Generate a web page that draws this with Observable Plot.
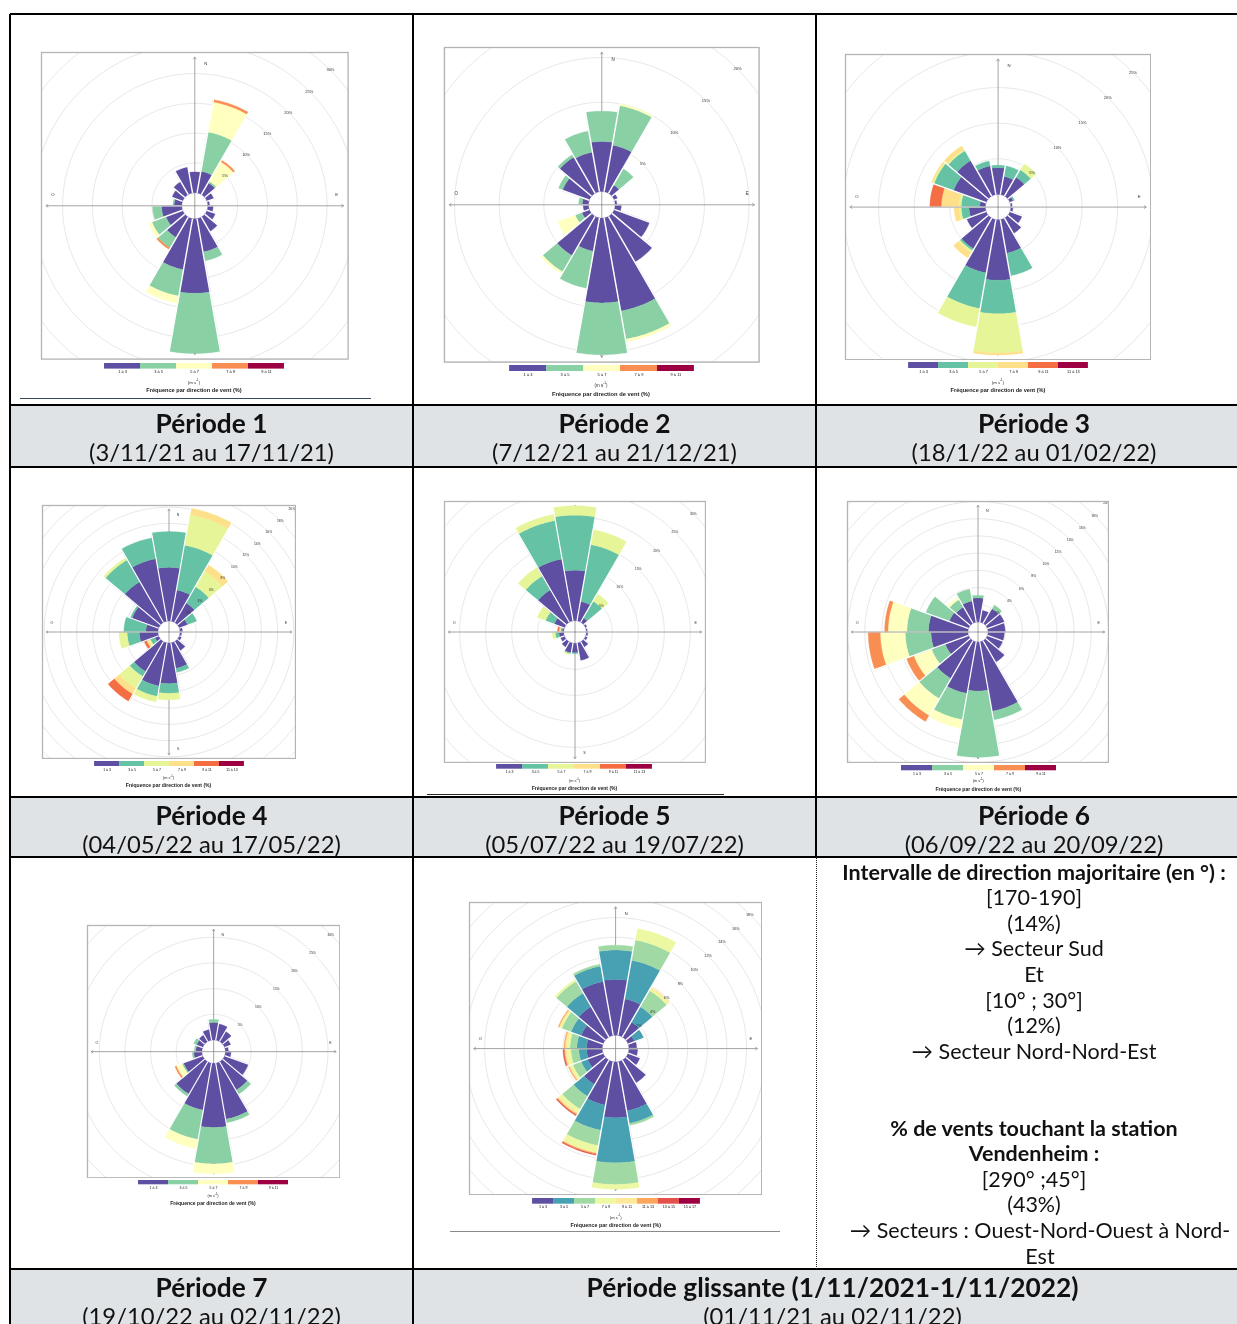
<!DOCTYPE html>
<html lang="fr"><head><meta charset="utf-8"><title>Roses des vents</title>
<script src="https://cdn.jsdelivr.net/npm/d3@7"></script>
<script src="https://cdn.jsdelivr.net/npm/@observablehq/plot@0.6"></script>
<style>
html,body{margin:0;padding:0;background:#fff;}
#page{position:relative;width:1237px;height:1324px;overflow:hidden;font-family:Lato,"Open Sans",sans-serif;color:#111;will-change:transform;}
.a{position:absolute;}
.hdr{position:absolute;background:#e0e3e6;text-align:center;line-height:29px;padding-top:3.5px;box-sizing:border-box;white-space:nowrap;}
.hdr .t{font-weight:700;font-size:26.3px;}
.hdr .d{font-size:23.8px;}
.cap{position:absolute;text-align:center;font-family:"Liberation Sans",Arial,sans-serif;white-space:nowrap;transform:translate(-50%,-50%);color:#222;line-height:1;}
.note{position:absolute;text-align:center;font-size:21.5px;line-height:25.6px;white-space:nowrap;}
svg{will-change:transform;}
</style></head><body><div id="page"></div>
<script>
// ---------- DATA ----------
// wind directions (centre of 20° sectors, degrees from North, clockwise)
const DIRS = d3.range(0, 360, 20);
// wind speed classes (m s-1)
const SPEED_CLASSES = ["1 à 3","3 à 5","5 à 7","7 à 9","9 à 11","11 à 13","13 à 15","15 à 17"];
// frequency (%) per direction (0,20,...,340) and per speed class
const P1 = [[3.5],[3.7,6.7,5.1,0.4],[2.3,0.3,3.8,0.3],[1.2],[0.3],[0.9],[1.5],[2.8],[5.7,1.5],[12.5,10.1],[8.7,4.5,1.2],[4.0,2.0,0,0.3],[3.0,2.5,0.6],[3.4,1.5],[1.3,0.2],[1.9],[2.5],[4.4]];
const P2 = [[5.6,3.4],[5.3,4.5,0.2],[1.1,2.1],[0.4],[0.2],[0.7],[4.2],[5.9],[10.6,3.2,0.3],[9.5,5.8],[3.8,4.2],[5.1,2.1,0.25],[0.9,0.8,2.1],[0.6],[0.7,0.4],[3.2,0.5],[4.7,0.3],[4.5,2.4]];
const P3 = [[3.75,0.35],[2.6,1.5],[3.1,1.2,1.0],[0.5,0.2],[0.2],[0.3],[1.8],[2.5],[4.8,3.2],[8.5,4.7,5.5,0.3],[7.6,5.1,2.6],[5.0,0.3,0.3,0.9],[2.9],[2.3,1.1,0.3,0.7],[0.8,2.6,0.3,2.5,1.6],[4.9,2.9,0.2,0.2],[5.8,1.6,0.2,0.6],[4.1,0.7]];
const P4 = [[6.6,4.4],[3.9,5.6,3.8,0.8],[2.8,2.3,2.2,0.9],[1.1,1.2],[0.3],[0.2],[0.3],[1.3],[3.2,0.5],[5.0,1.2,0.8],[5.4,1.3,0.7],[4.3,0.7,1.7,0.8,1.0],[0.5,0.6,0.3,0.2,0.3],[2.3,1.5,1.0],[1.5,2.7],[3.5,0.2],[5.8,3.1,0.3],[7.8,2.6]];
const P5 = [[9.7,10.6,1.8],[3.8,11.1,2.9],[1.0,3.7,1.6],[0.3],[0.2],[0.3],[0.4],[1.2],[3.4],[1.8,0.2],[1.9,0.2,0.2],[1.2],[0.8],[0.9,0.7,0.6],[0.3,0.3,0.1,0.2,0.3],[2.1,1.8,1.7],[7.2,3.1,1.9],[12.1,7.5,1.2]];
const P6 = [[2.8,0.3],[1.4],[2.0,0.5],[2.1],[2.0],[1.9],[1.9],[2.9],[8.2,1.0],[5.7,7.7],[6.1,3.1,1.0],[5.1,2.7,2.3,0.8],[2.9,1.7,2.2,0.9],[4.3,3.0,2.9,1.4],[4.6,2.5,2.2,0.4],[2.4,2.9],[2.2,1.0,0.3],[2.5,1.4]];
const P7 = [[3.4,0.6],[3.2],[2.3],[1.3],[0.6],[1.1],[4.9],[6.4,0.9],[11.1,0.7],[12.5,7.1,1.9],[9.3,5.8,1.8],[7.3,0.5],[4.0,0.3,1.2,0.3],[1.6,0.3],[1.2,0.3],[1.3,0.6],[1.5],[2.1]];
const P8 = [[5.7,3.0,0.5],[3.8,4.0,2.1,1.2],[1.8,1.8,1.9,0.2,0.2],[0.7,1.0],[0.8],[0.9],[1.3],[2.7],[5.1,1.3,0.2],[5.7,4.6,2.2,0.5],[4.5,2.6,1.6,0.7,0.1,0.1,0.1],[2.9,1.4,1.5,0.4,0.2,0.1,0.1],[1.7,0.7,0.9,0.3,0.1,0.1],[1.6,0.8,0.8,0.4,0.2,0.1,0.1],[1.6,1.0,0.7,0.3,0.2,0.1],[2.4,1.1,1.0,0.2,0.1,0.1],[3.6,1.6,1.4,0.2],[5.6,1.6,0.2]];
const ROSES = [P1, P2, P3, P4, P5, P6, P7, P8];
const N_CLASSES = [5, 5, 6, 6, 6, 5, 5, 8];
const RING_STEP = [5, 5, 5, 2, 5, 2, 5, 2];
const RING_MAX = [30, 25, 25, 20, 30, 20, 30, 18];
const PERIOD_TITLES = ["Période 1","Période 2","Période 3","Période 4","Période 5","Période 6","Période 7","Période glissante (1/11/2021-1/11/2022)"];
const PERIOD_DATES = ["(3/11/21 au 17/11/21)","(7/12/21 au 21/12/21)","(18/1/22 au 01/02/22)","(04/05/22 au 17/05/22)","(05/07/22 au 19/07/22)","(06/09/22 au 20/09/22)","(19/10/22 au 02/11/22)","(01/11/21 au 02/11/22)"];
const NOTE_LINES = ["Intervalle de direction majoritaire (en °) :","[170-190]","(14%)","→ Secteur Sud","Et","[10° ; 30°]","(12%)","→ Secteur Nord-Nord-Est","","","% de vents touchant la station","Vendenheim :","[290° ;45°]","(43%)","→ Secteurs : Ouest-Nord-Ouest à Nord-","Est"];
const NOTE_BOLD = [0, 10, 11];
const CARDINALS = [["N", 0], ["E", 90], ["S", 180], ["O", 270]];

// ---------- LAYOUT / STYLE ----------
const SPECTRAL = ["#5e4fa2","#3288bd","#66c2a5","#abdda4","#e6f598","#ffffbf","#fee08b","#fdae61","#f46d43","#d53e4f","#9e0142"];
const ramp = d3.piecewise(d3.interpolateRgb, SPECTRAL);
const LAYOUT = [
  {x: 40.7, y: 52.3, size: 306.6, s: 5.96, r0: 13, leg: {x: 102.3, y: 362.7, w: 183.7, h: 5.6}, cx: 194, unitY: 382, titleY: 391},
  {x: 443.7, y: 47.3, size: 314.6, s: 8.93, r0: 13.3, leg: {x: 506.7, y: 365, w: 188.3, h: 6}, cx: 601, unitY: 385, titleY: 395},
  {x: 845.3, y: 54, size: 305.2, s: 7.12, r0: 12.7, leg: {x: 906.3, y: 362.3, w: 183.4, h: 6}, cx: 998, unitY: 382, titleY: 391},
  {x: 42.3, y: 505, size: 253, s: 8.13, r0: 11, leg: {x: 92.7, y: 761, w: 151.6, h: 5}, cx: 168.5, unitY: 778, titleY: 786},
  {x: 443.7, y: 500.7, size: 261, s: 5.2, r0: 11.3, leg: {x: 496, y: 764.3, w: 156.7, h: 4.7}, cx: 574.5, unitY: 781, titleY: 789},
  {x: 847.3, y: 501, size: 261, s: 8.6, r0: 10, leg: {x: 899.7, y: 765, w: 157, h: 5.3}, cx: 978.3, unitY: 781, titleY: 790},
  {x: 86.7, y: 925, size: 252.3, s: 5.13, r0: 11.7, leg: {x: 137.3, y: 1180, w: 151.4, h: 4.3}, cx: 213, unitY: 1196, titleY: 1203.5},
  {x: 469, y: 902.3, size: 292.2, s: 9.8, r0: 13.3, leg: {x: 527.7, y: 1198.3, w: 175.6, h: 5.7}, cx: 615.8, unitY: 1216.5, titleY: 1226}
];
const COLS = [10, 413, 816, 1252];
const HEADER_ROWS = [405, 797, 1269];
const HEADER_H = [62, 60, 70];

const page = document.getElementById("page");
function add(cls, css, html) {
  const d = document.createElement("div");
  if (cls) d.className = cls;
  Object.assign(d.style, css);
  if (html != null) d.innerHTML = html;
  page.appendChild(d);
  return d;
}

// header cells
const headerCells = [
  [0, 0, 1], [0, 1, 2], [0, 2, 3],
  [1, 0, 1], [1, 1, 2], [1, 2, 3],
  [2, 0, 1], [2, 1, 3]
];
headerCells.forEach(([r, c0, c1], i) => {
  add("hdr", {left: COLS[c0] + "px", top: HEADER_ROWS[r] + "px", width: (COLS[c1] - COLS[c0]) + "px", height: HEADER_H[r] + "px"},
    `<div class="t">${PERIOD_TITLES[i]}</div><div class="d">${PERIOD_DATES[i]}</div>`);
});

// note text
NOTE_LINES.forEach((line, i) => {
  const bold = NOTE_BOLD.includes(i);
  const shift = i >= 14 ? 6 : 0;
  add("note", {left: (COLS[2] + shift) + "px", top: (859.5 + i * 25.6) + "px", width: (COLS[3] - COLS[2]) + "px", fontWeight: bold ? "700" : "400"}, line || "&nbsp;");
});

// ---------- ROSES ----------
function sector(d0, d1, v0, v1, off) {
  const ring = [];
  const la1 = 90 - (off + v1), la0 = 90 - (off + v0);
  for (let a = d0; a <= d1 + 1e-9; a += 1) ring.push([180 - a, la1]);
  for (let a = d1; a >= d0 - 1e-9; a -= 1) ring.push([180 - a, la0]);
  ring.push(ring[0]);
  let g = {type: "Polygon", coordinates: [ring]};
  if (d3.geoArea(g) > 2 * Math.PI) g = {type: "Polygon", coordinates: [ring.slice().reverse()]};
  return g;
}

function drawRose(values, nCls, step, max, L) {
  const half = L.size / 2;
  const k = half / 153;
  const off = L.r0 / L.s;
  const R = half / L.s;
  const lon = d => 180 - d;
  const lat = v => 90 - (off + v);
  const cls = SPEED_CLASSES.slice(0, nCls);
  const colors = d3.quantize(ramp, nCls);
  const wedges = [], totals = [];
  values.forEach((stack, i) => {
    let c = 0;
    stack.forEach((v, j) => {
      if (v > 0) wedges.push({type: "Feature", properties: {cls: cls[j]}, geometry: sector(DIRS[i] - 10, DIRS[i] + 10, c, c + v, off)});
      c += v;
    });
    totals.push(c);
  });
  const gaps = DIRS.map((d, i) => ({b: d + 10, ext: Math.max(totals[i], totals[(i + 1) % DIRS.length])})).filter(g => g.ext > 0);
  const ringVals = d3.range(step, max + 1e-9, step);
  const rings = ringVals.map(v => d3.geoCircle().center([0, 90]).radius(off + v).precision(1)());
  const axisEnd = 90 - 0.97 * R;
  const labR = 90 - 0.925 * R;
  const vertical = [0, 180], horizontal = [90, 270];
  const arrowOpts = {x1: () => 0, y1: () => 90, x2: d => lon(d), y2: () => axisEnd, stroke: "#9a9a9a", strokeWidth: 0.9, headLength: 3.6 * k, headAngle: 70};
  const svg = Plot.plot({
    width: L.size + 2, height: L.size + 2, margin: 1,
    projection: {type: "azimuthal-equidistant", rotate: [0, -90], domain: d3.geoCircle().center([0, 90]).radius(R)()},
    color: {domain: cls, range: colors},
    style: {fontFamily: "'Liberation Sans', Arial, sans-serif", background: "transparent"},
    marks: [
      Plot.geo(rings, {stroke: "#dcdcdc", strokeWidth: 0.7, fill: "none"}),
      Plot.arrow(vertical, arrowOpts),
      Plot.text(CARDINALS.filter(c => c[1] % 180 === 0), {x: c => lon(c[1]), y: () => labR, text: c => c[0], dx: 0.072 * half, fontSize: 4.3 * k, fill: "#333"}),
      Plot.text(CARDINALS.filter(c => c[1] % 180 !== 0), {x: c => lon(c[1]), y: () => labR, text: c => c[0], dy: -0.07 * half, fontSize: 4.3 * k, fill: "#333"}),
      Plot.geo(wedges, {fill: d => d.properties.cls, stroke: d => d.properties.cls, strokeWidth: 0.3}),
      Plot.link(gaps, {x1: g => lon(g.b), y1: () => lat(0), x2: g => lon(g.b), y2: g => lat(g.ext) - 0.3, stroke: "white", strokeWidth: 1.4 * k}),
      Plot.arrow(horizontal, arrowOpts),
      Plot.text(ringVals, {x: () => lon(45), y: v => lat(v), text: v => v + "%", fontSize: 4 * k, fill: "#333"}),
      Plot.frame({stroke: "#b4b4b4", strokeWidth: 1.3})
    ]
  });
  svg.style.position = "absolute";
  svg.style.left = (L.x - 1) + "px";
  svg.style.top = (L.y - 1) + "px";
  page.appendChild(svg);

  // legend bar
  const leg = Plot.plot({
    width: L.leg.w, height: L.leg.h + 9, marginTop: 0, marginLeft: 0, marginRight: 0, marginBottom: 9,
    x: {domain: cls, padding: 0, tickSize: 0, tickPadding: 1.6, label: null},
    color: {domain: cls, range: colors},
    style: {fontFamily: "'Liberation Sans', Arial, sans-serif", fontSize: (3.9 * Math.max(k, 0.9)) + "px", background: "transparent", overflow: "visible"},
    marks: [Plot.cell(cls, {x: d => d, fill: d => d, inset: 0})]
  });
  leg.style.position = "absolute";
  leg.style.left = L.leg.x + "px";
  leg.style.top = L.leg.y + "px";
  page.appendChild(leg);
  add("cap", {left: L.cx + "px", top: L.unitY + "px", fontSize: (4.3 * Math.max(k, 0.9)) + "px"}, "(m s<sup style='font-size:70%'>-1</sup>)");
  add("cap", {left: L.cx + "px", top: L.titleY + "px", fontSize: (5.6 * Math.max(k, 0.9)) + "px", fontWeight: "700"}, "Fréquence par direction de vent (%)");
}

ROSES.forEach((vals, i) => drawRose(vals, N_CLASSES[i], RING_STEP[i], RING_MAX[i], LAYOUT[i]));

// ---------- TABLE RULES ----------
function rule(css) { add("a", Object.assign({background: "#000"}, css)); }
[14, 405, 467, 797, 857, 1269].forEach(y => rule({left: "10px", top: (y - 1.2) + "px", width: "1242px", height: "2.4px"}));
rule({left: "9.4px", top: "14px", width: "1.4px", height: "1310px"});
rule({left: "412.4px", top: "14px", width: "1.3px", height: "1310px"});
rule({left: "815.4px", top: "14px", width: "1.3px", height: "843px"});
add("a", {left: "815.6px", top: "857px", width: "0", height: "412px", borderLeft: "1px dotted #222"});
// document artefact lines under some legends
add("a", {left: "20px", top: "397.5px", width: "351px", height: "1px", background: "#34495e"});
add("a", {left: "427px", top: "794px", width: "297px", height: "1.4px", background: "#2b2b2b"});
add("a", {left: "450px", top: "1230.5px", width: "330px", height: "1px", background: "#8a8a8a"});
</script></body></html>
